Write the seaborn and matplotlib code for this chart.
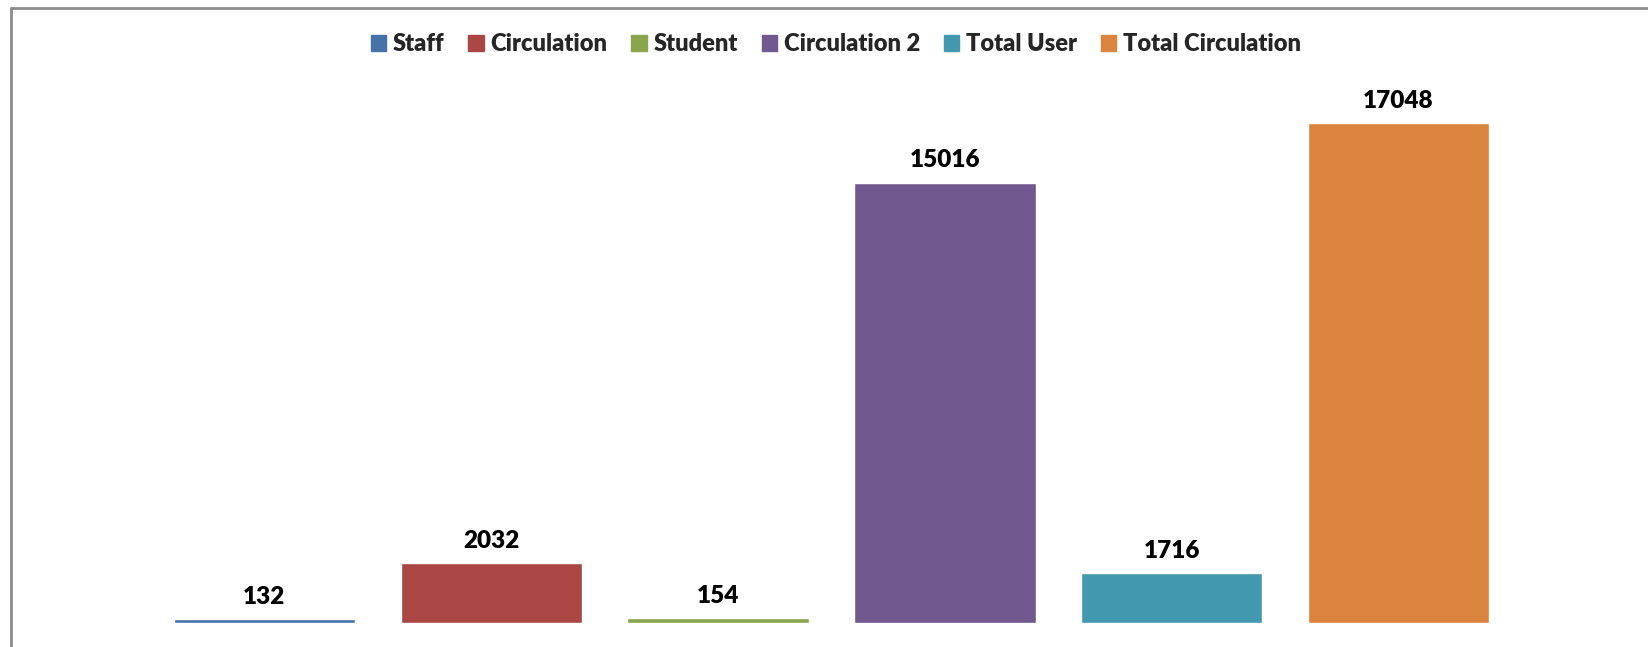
import matplotlib
matplotlib.use("Agg")
import matplotlib.pyplot as plt
from matplotlib.lines import Line2D
import pandas as pd
import seaborn as sns

categories = ["Staff", "Circulation", "Student", "Circulation 2", "Total User", "Total Circulation"]
values = [132, 2032, 154, 15016, 1716, 17048]
colors = ["#4572A7", "#AA4643", "#89A54E", "#71588F", "#4198AF", "#DB843D"]

df = pd.DataFrame({"category": categories, "value": values})

sns.set_style("white")
plt.rcParams["font.family"] = ["Lato", "DejaVu Sans"]

W, H = 1648, 647
fig = plt.figure(figsize=(W / 100, H / 100), dpi=100)
# plot area in pixels: x 151..1512, y bottom 623, ymax 18000 at y 95
ax = fig.add_axes([151 / W, (H - 623) / H, (1512 - 151) / W, 528 / H])

sns.barplot(data=df, x="category", y="value", hue="category", palette=colors,
            order=categories, hue_order=categories, width=0.8, saturation=1,
            legend=False, ax=ax)

ax.set_xlim(-0.5, len(categories) - 0.5)
ax.set_ylim(0, 18000)
ax.axis("off")

for i, v in enumerate(values):
    ax.annotate(str(v), (i, v), xytext=(0, 8), textcoords="offset points",
                ha="center", va="bottom", fontsize=17.5, fontweight="heavy", color="black")

handles = [plt.Rectangle((0, 0), 1, 1, color=c) for c in colors]
fig.legend(handles, categories, loc="center", bbox_to_anchor=(836 / W, 1 - 44 / H),
           ncol=6, frameon=False, handlelength=0.65, handleheight=0.65,
           handletextpad=0.3, columnspacing=1.0,
           prop={"size": 17, "weight": "heavy"})

# chart area border (left and top edges visible)
fig.add_artist(Line2D([11 / W, 11 / W], [0, 1 - 7.5 / H], transform=fig.transFigure,
                      color="#8c8c8c", lw=2))
fig.add_artist(Line2D([11 / W, 1], [1 - 7.5 / H, 1 - 7.5 / H], transform=fig.transFigure,
                      color="#8c8c8c", lw=2))

fig.savefig("out.png", dpi=100)
